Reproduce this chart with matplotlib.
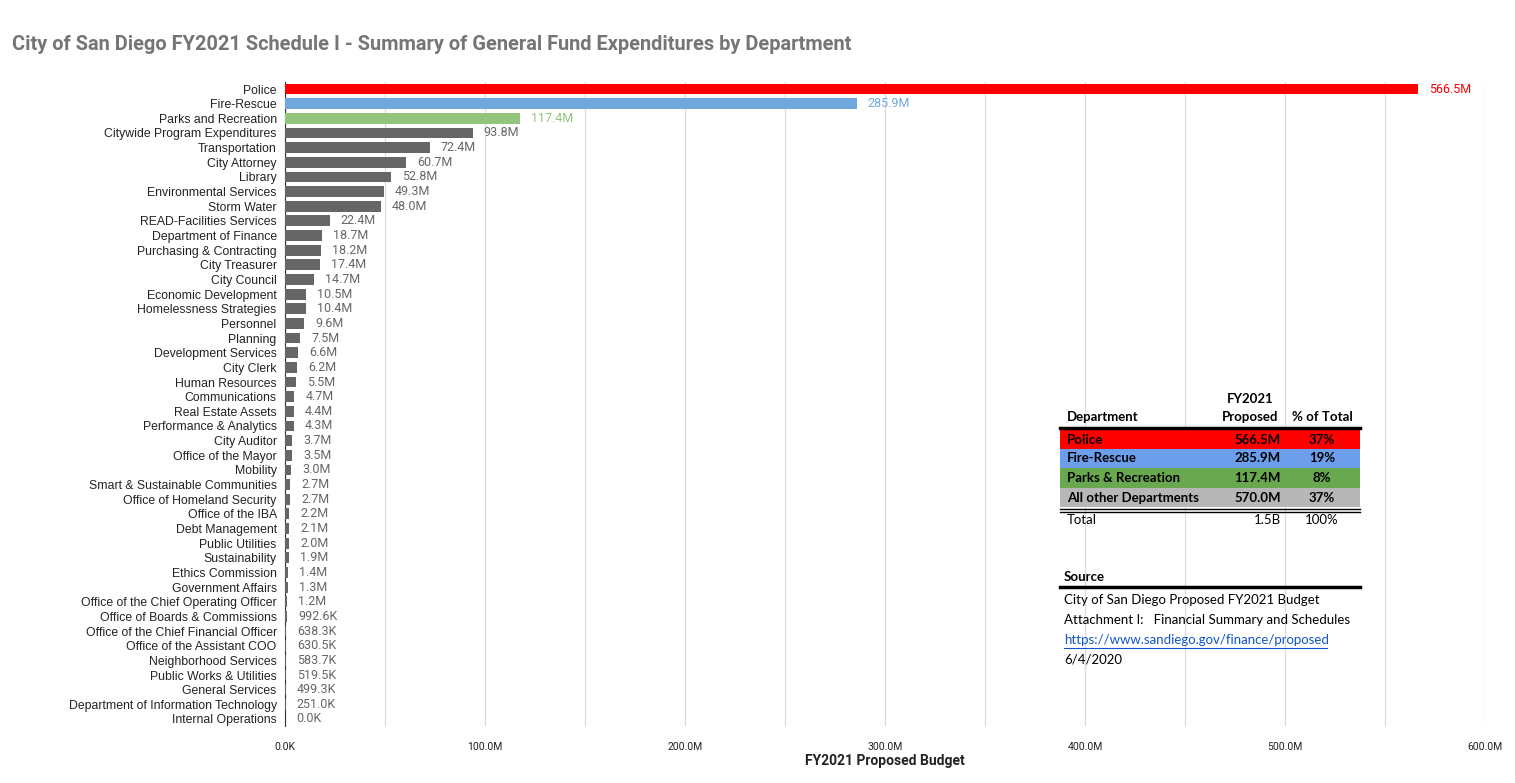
import matplotlib.pyplot as plt
from matplotlib.patches import Rectangle
import numpy as np

departments = [
    "Police", "Fire-Rescue", "Parks and Recreation", "Citywide Program Expenditures",
    "Transportation", "City Attorney", "Library", "Environmental Services", "Storm Water",
    "READ-Facilities Services", "Department of Finance", "Purchasing & Contracting",
    "City Treasurer", "City Council", "Economic Development", "Homelessness Strategies",
    "Personnel", "Planning", "Development Services", "City Clerk", "Human Resources",
    "Communications", "Real Estate Assets", "Performance & Analytics", "City Auditor",
    "Office of the Mayor", "Mobility", "Smart & Sustainable Communities",
    "Office of Homeland Security", "Office of the IBA", "Debt Management",
    "Public Utilities", "Sustainability", "Ethics Commission", "Government Affairs",
    "Office of the Chief Operating Officer", "Office of Boards & Commissions",
    "Office of the Chief Financial Officer", "Office of the Assistant COO",
    "Neighborhood Services", "Public Works & Utilities", "General Services",
    "Department of Information Technology", "Internal Operations",
]
# millions of dollars
budget = [
    566.5, 285.9, 117.4, 93.8, 72.4, 60.7, 52.8, 49.3, 48.0, 22.4, 18.7, 18.2, 17.4,
    14.7, 10.5, 10.4, 9.6, 7.5, 6.6, 6.2, 5.5, 4.7, 4.4, 4.3, 3.7, 3.5, 3.0, 2.7, 2.7,
    2.2, 2.1, 2.0, 1.9, 1.4, 1.3, 1.2, 0.9926, 0.6383, 0.6305, 0.5837, 0.5195, 0.4993,
    0.2510, 0.0,
]

table_rows = ["Police", "Fire-Rescue", "Parks & Recreation", "All other Departments"]
table_vals = ["566.5M", "285.9M", "117.4M", "570.0M"]
table_pct = ["37%", "19%", "8%", "37%"]

source_lines = [
    "City of San Diego Proposed FY2021 Budget",
    "Attachment I:   Financial Summary and Schedules",
    "https://www.sandiego.gov/finance/proposed",
    "6/4/2020",
]


def fmt(v):
    if v >= 1:
        return f"{v:.1f}M"
    return f"{v * 1000:.1f}K"


bar_colors = ["#ff0000", "#6fa8dc", "#93c47d"] + ["#666666"] * (len(budget) - 3)
label_colors = ["#ff0000", "#6fa8dc", "#93c47d"] + ["#666666"] * (len(budget) - 3)
row_colors = ["#ff0000", "#6d9eeb", "#6aa84f", "#b7b7b7"]

fig = plt.figure(figsize=(15.15, 7.83), dpi=100)
ax = fig.add_axes([285 / 1515, 1 - 726.3 / 783, 1200 / 1515, 644.6 / 783])

y = np.arange(len(budget))
ax.barh(y, budget, height=0.74, color=bar_colors, zorder=3)
for i, v in enumerate(budget):
    ax.text(v + 5.5, i, fmt(v), va="center", ha="left", fontsize=9,
            color=label_colors[i], family="Roboto", zorder=4)

ax.set_ylim(len(budget) - 0.5, -0.5)
ax.set_xlim(0, 600)
ax.set_yticks(y)
ax.set_yticklabels(departments, fontsize=8.8, family="Liberation Sans", color="#222222")
ax.set_xticks(np.arange(0, 601, 100))
ax.set_xticklabels(["0.0K"] + [f"{v}.0M" for v in range(100, 601, 100)],
                   fontsize=7.5, family="Roboto", color="#222222")
ax.set_xticks(np.arange(50, 600, 100), minor=True)
ax.tick_params(axis="x", which="both", length=0, pad=11)
ax.tick_params(axis="y", which="both", length=0, pad=6)
ax.grid(axis="x", which="both", color="#dcdcdc", lw=0.9, zorder=0)
for side in ["top", "right", "bottom"]:
    ax.spines[side].set_visible(False)
ax.spines["left"].set_color("#333333")
ax.set_xlabel("FY2021 Proposed Budget", fontsize=10, fontweight="bold",
              family="Roboto", color="#222222", labelpad=2)

fig.text(12 / 1515, 1 - 45 / 783, "City of San Diego FY2021 Schedule I - Summary of General Fund Expenditures by Department",
         fontsize=14.4, fontweight="bold", family="Roboto", color="#757575", va="center")

# summary table drawn in pixel coordinates
ov = fig.add_axes([0, 0, 1, 1])
ov.set_xlim(0, 1515)
ov.set_ylim(783, 0)
ov.axis("off")

tf = "Lato"
fs = 9.5
x0, x1 = 1060, 1360
ov.text(1067, 417, "Department", fontsize=fs, fontweight="bold", family=tf, va="center")
ov.text(1250, 399, "FY2021", fontsize=fs, fontweight="bold", family=tf, va="center", ha="center")
ov.text(1250, 417, "Proposed", fontsize=fs, fontweight="bold", family=tf, va="center", ha="center")
ov.text(1322, 417, "% of Total", fontsize=fs, fontweight="bold", family=tf, va="center", ha="center")
ov.plot([x0, x1], [428, 428], color="black", lw=2.5)

row_top = [430, 449, 468, 488]
row_h = [19, 19, 20, 19]
for i, name in enumerate(table_rows):
    ov.add_patch(Rectangle((x0, row_top[i]), x1 - x0, row_h[i], color=row_colors[i], lw=0))
    yc = row_top[i] + row_h[i] / 2
    ov.text(1067, yc, name, fontsize=fs, fontweight="bold", family=tf, va="center")
    ov.text(1281, yc, table_vals[i], fontsize=fs, fontweight="bold", family=tf, va="center", ha="right")
    ov.text(1322, yc, table_pct[i], fontsize=fs, fontweight="bold", family=tf, va="center", ha="center")
ov.plot([x0, x1], [509, 509], color="black", lw=1)
ov.plot([x0, x1], [512, 512], color="black", lw=1)
ov.text(1067, 520, "Total", fontsize=fs, family=tf, va="center")
ov.text(1281, 520, "1.5B", fontsize=fs, family=tf, va="center", ha="right")
ov.text(1322, 520, "100%", fontsize=fs, family=tf, va="center", ha="center")

ov.text(1064, 577, "Source", fontsize=fs, fontweight="bold", family=tf, va="center")
ov.plot([x0, x1], [587, 587], color="black", lw=2.5)
for i, line in enumerate(source_lines):
    c = "#1155cc" if line.startswith("http") else "black"
    ov.text(1064, 600 + i * 19.8, line, fontsize=fs, family=tf, va="center", color=c)
    if line.startswith("http"):
        ov.plot([1064, 1327], [600 + i * 19.8 + 8, 600 + i * 19.8 + 8], color=c, lw=0.8)

fig.savefig("out.png", dpi=100)
